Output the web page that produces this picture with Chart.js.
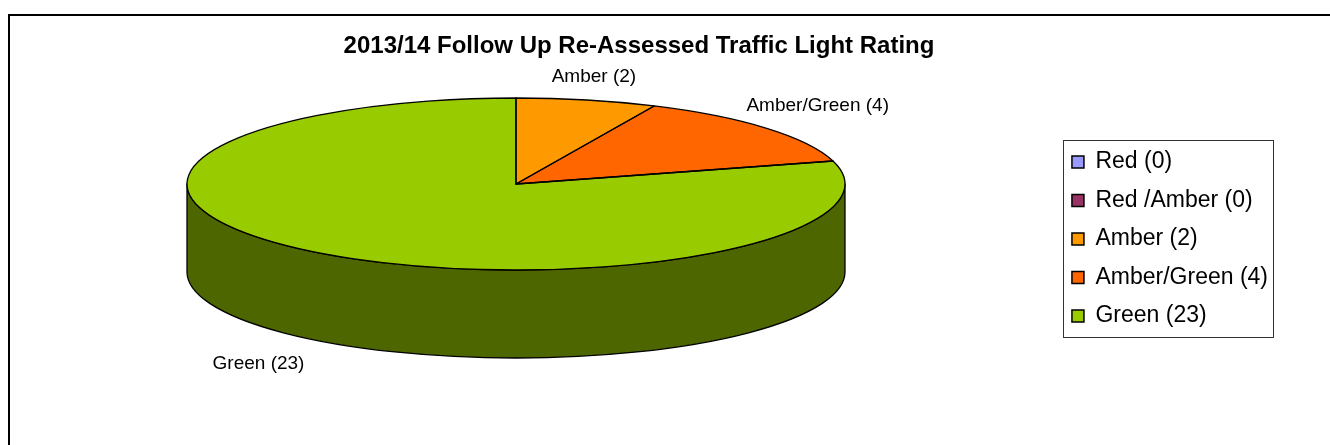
<!DOCTYPE html>
<html>
<head>
<meta charset="utf-8">
<script src="https://cdn.jsdelivr.net/npm/chart.js@4.4.1/dist/chart.umd.min.js"></script>
<style>
  html, body { margin: 0; padding: 0; background: #ffffff; overflow: hidden; }
  #wrap { width: 1330px; height: 445px; position: relative; }
  canvas { display: block; }
</style>
</head>
<body>
<div id="wrap"><canvas id="c" width="1330" height="445"></canvas></div>
<script>
// ---- data ----
const categories = ['Red', 'Red /Amber', 'Amber', 'Amber/Green', 'Green'];
const counts = [0, 0, 2, 4, 23];
const titleText = '2013/14 Follow Up Re-Assessed Traffic Light Rating';
const sliceLabels = categories.map((c, i) => c + ' (' + counts[i] + ')');

// ---- style ----
const palette = ['#9999FF', '#993366', '#FF9900', '#FF6600', '#99CC00'];
const FONT = "'Liberation Sans', Arial, Helvetica, sans-serif";
const view3d = { cx: 516, cy: 184, rx: 329, ry: 86, depth: 88, labelGap: 23, labelPush: 80, labelShift: -10, labelFont: 19 };

function shade(hex, f) {
  const n = parseInt(hex.slice(1), 16);
  const r = Math.round(((n >> 16) & 255) * f), g = Math.round(((n >> 8) & 255) * f), b = Math.round((n & 255) * f);
  return 'rgb(' + r + ',' + g + ',' + b + ')';
}

const pie3d = {
  id: 'pie3d',
  beforeDraw(chart) {
    const ctx = chart.ctx;
    ctx.save();
    ctx.strokeStyle = '#000';
    ctx.lineWidth = 2;
    ctx.strokeRect(9, 15, 1400, 500);
    ctx.restore();
  },
  beforeDatasetsDraw(chart) {
    const ctx = chart.ctx;
    const meta = chart.getDatasetMeta(0);
    const V = view3d;
    // side walls (front half only)
    ctx.save();
    meta.data.forEach((arc, i) => {
      const p = arc.getProps(['startAngle', 'endAngle', 'circumference'], true);
      if (!(p.circumference > 0)) return;
      for (let k = -2; k <= 1; k++) {
        const a = Math.max(p.startAngle + k * 2 * Math.PI, 0);
        const b = Math.min(p.endAngle + k * 2 * Math.PI, Math.PI);
        if (b <= a) continue;
        ctx.beginPath();
        ctx.ellipse(V.cx, V.cy, V.rx, V.ry, 0, a, b, false);
        ctx.lineTo(V.cx + V.rx * Math.cos(b), V.cy + V.ry * Math.sin(b) + V.depth);
        ctx.ellipse(V.cx, V.cy + V.depth, V.rx, V.ry, 0, b, a, true);
        ctx.closePath();
        ctx.fillStyle = shade(palette[i], 0.5);
        ctx.fill();
        ctx.lineWidth = 1.3;
        ctx.strokeStyle = '#000';
        ctx.lineJoin = 'round';
        ctx.stroke();
      }
    });
    ctx.restore();
    // map the library's circular pie onto the tilted ellipse
    const first = meta.data[0].getProps(['x', 'y', 'outerRadius'], true);
    ctx.save();
    ctx.translate(V.cx, V.cy);
    ctx.scale(V.rx / first.outerRadius, V.ry / first.outerRadius);
    ctx.translate(-first.x, -first.y);
  },
  afterDatasetsDraw(chart) {
    const ctx = chart.ctx;
    ctx.restore();
    const meta = chart.getDatasetMeta(0);
    const V = view3d;
    ctx.save();
    ctx.lineWidth = 1.3;
    ctx.strokeStyle = '#000';
    ctx.lineJoin = 'round';
    meta.data.forEach((arc) => {
      const p = arc.getProps(['startAngle', 'endAngle', 'circumference'], true);
      if (!(p.circumference > 0)) return;
      ctx.beginPath();
      ctx.moveTo(V.cx, V.cy);
      ctx.ellipse(V.cx, V.cy, V.rx, V.ry, 0, p.startAngle, p.endAngle, false);
      ctx.closePath();
      ctx.stroke();
    });
    // data labels
    ctx.font = V.labelFont + 'px ' + FONT;
    ctx.fillStyle = '#000';
    ctx.textAlign = 'center';
    ctx.textBaseline = 'middle';
    meta.data.forEach((arc, i) => {
      if (!(counts[i] > 0)) return;
      const p = arc.getProps(['startAngle', 'endAngle'], true);
      const mid = (p.startAngle + p.endAngle) / 2;
      const c = Math.cos(mid), s = Math.sin(mid);
      const px = V.cx + V.rx * c;
      const py = V.cy + V.ry * s + (s > 0 ? V.depth : 0);
      ctx.fillText(sliceLabels[i], px + V.labelPush * c + V.labelShift, py + (s > 0 ? 1 : -1) * V.labelGap);
    });
    ctx.restore();
  },
  afterDraw(chart) {
    const lg = chart.legend;
    if (!lg || !lg.legendHitBoxes || !lg.legendHitBoxes.length) return;
    let l = Infinity, t = Infinity, r = -Infinity, b = -Infinity;
    lg.legendHitBoxes.forEach(h => {
      l = Math.min(l, h.left); t = Math.min(t, h.top);
      r = Math.max(r, h.left + h.width); b = Math.max(b, h.top + h.height);
    });
    const ctx = chart.ctx;
    ctx.save();
    ctx.strokeStyle = '#333';
    ctx.lineWidth = 1;
    ctx.strokeRect(Math.round(l - 9) + 0.5, Math.round(t - 10) + 0.5, Math.round(r - l + 14), Math.round(b - t + 20));
    ctx.restore();
  }
};

new Chart(document.getElementById('c'), {
  type: 'pie',
  data: {
    labels: sliceLabels,
    datasets: [{
      data: counts,
      backgroundColor: palette,
      borderWidth: 0,
      clip: false
    }]
  },
  options: {
    responsive: false,
    animation: false,
    events: [],
    layout: { padding: { left: 0, right: 52, top: 0, bottom: 38 } },
    plugins: {
      tooltip: { enabled: false },
      title: {
        display: true,
        text: titleText,
        color: '#000',
        font: { family: FONT, size: 24, weight: 'bold' },
        padding: { top: 32, bottom: 10 }
      },
      legend: {
        display: true,
        position: 'right',
        fullSize: false,
        align: 'center',
        labels: {
          color: '#000',
          font: { family: FONT, size: 23 },
          boxWidth: 12,
          boxHeight: 12,
          padding: 15.5,
          generateLabels(chart) {
            const items = Chart.overrides.doughnut.plugins.legend.labels.generateLabels(chart);
            return items.map(it => Object.assign({}, it, { strokeStyle: '#000', lineWidth: 1.5 }));
          }
        }
      }
    }
  },
  plugins: [pie3d]
});
</script>
</body>
</html>
